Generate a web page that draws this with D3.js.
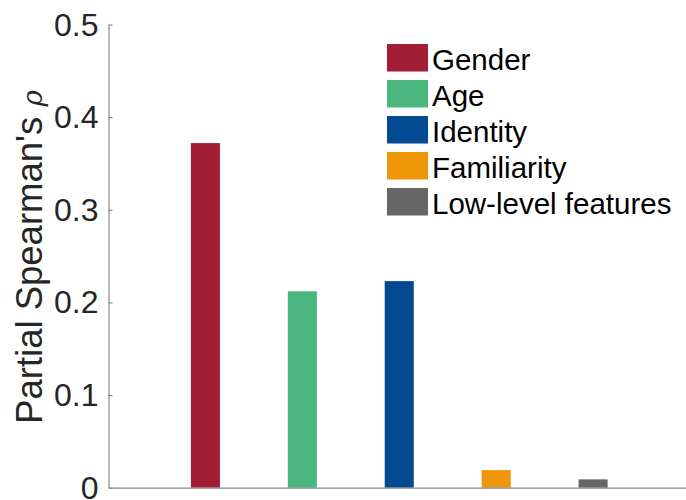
<html>
<head>
<style>
    body { margin: 0; background: #fff; }
    text { font-family: "Liberation Sans", Arial, Helvetica, sans-serif; }
</style>
</head>
<body>
<svg id="chart" width="686" height="500"></svg>
<script src="https://d3js.org/d3.v7.min.js"></script>
<script>
    // data
    let categories = ["Gender", "Age", "Identity", "Familiarity", "Low-level features"]
    let values = [0.372, 0.212, 0.223, 0.019, 0.009]
    let colors = ["#a21e35", "#4cb67f", "#034a92", "#ef9508", "#666666"]
    let yTicks = [0, 0.1, 0.2, 0.3, 0.4, 0.5]

    let svg = d3.select("#chart")

    // axis position in pixels
    let plotLeft = 108.5, plotRight = 690, plotTop = 24.5, plotBottom = 487.7

    let x = d3.scaleLinear().domain([0, 6]).range([plotLeft, plotRight])
    let y = d3.scaleLinear().domain([0, 0.5]).range([plotBottom, plotTop])
    let barWidth = (x(1) - x(0)) * 0.3

    // bars
    svg.append("g").selectAll("rect")
        .data(values)
        .enter()
        .append("rect")
        .attr("x", (d, i) => x(i + 1) - barWidth / 2)
        .attr("y", d => y(d))
        .attr("width", barWidth)
        .attr("height", d => y(0) - y(d))
        .attr("fill", (d, i) => colors[i])

    // x axis line (no ticks)
    let xAxis = d3.axisBottom(x).tickValues([]).tickSizeOuter(0)
    let gx = svg.append("g")
        .attr("transform", `translate(0,${plotBottom})`)
        .call(xAxis)
    gx.select(".domain").attr("stroke", "#8a8a8a").attr("stroke-width", 1.2)

    // y axis, ticks pointing inward
    let yAxis = d3.axisLeft(y)
        .tickValues(yTicks)
        .tickFormat(d => d === 0 ? "0" : d3.format(".1f")(d))
        .tickSizeInner(-4)
        .tickSizeOuter(0)
        .tickPadding(10)
    let gy = svg.append("g")
        .attr("transform", `translate(${plotLeft},0)`)
        .call(yAxis)
    gy.select(".domain").attr("stroke", "#8a8a8a").attr("stroke-width", 1.2)
    gy.selectAll(".tick line").attr("stroke", "#8a8a8a").attr("stroke-width", 1.2)
    gy.selectAll(".tick text")
        .attr("font-size", 32)
        .attr("dy", "0.33em")
        .attr("fill", "#262626")
        .attr("font-family", "Liberation Sans, Arial, sans-serif")

    // y label
    let label = svg.append("text")
        .attr("transform", `translate(42,257) rotate(-90)`)
        .attr("text-anchor", "middle")
        .attr("font-size", 36.5)
        .attr("fill", "#262626")
    label.append("tspan").text("Partial Spearman's ")
    label.append("tspan").attr("font-style", "italic").attr("font-family", "DejaVu Serif, serif").attr("font-size", 28).text("ρ")

    // legend
    let legend = svg.append("g").attr("transform", "translate(387,44)")
    let items = legend.selectAll("g")
        .data(categories)
        .enter()
        .append("g")
        .attr("transform", (d, i) => `translate(0,${i * 36})`)
    items.append("rect")
        .attr("width", 41)
        .attr("height", 27.5)
        .attr("fill", (d, i) => colors[i])
    items.append("text")
        .attr("x", 45)
        .attr("y", 26)
        .attr("font-size", 29.5)
        .attr("fill", "#000")
        .text(d => d)
</script>
</body>
</html>
